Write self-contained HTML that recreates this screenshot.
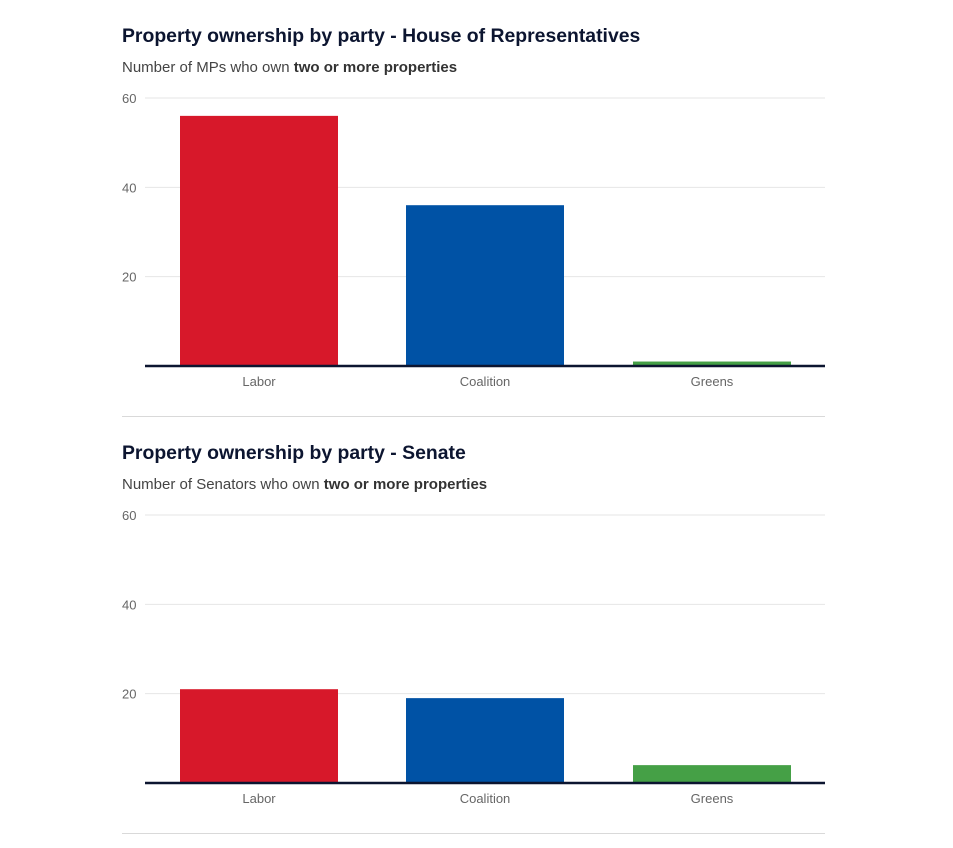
<!DOCTYPE html>
<html><head><meta charset="utf-8"><style>
body{margin:0;background:#fff;width:953px;height:843px;overflow:hidden;font-family:"Liberation Sans",sans-serif;}
svg text{font-family:"Liberation Sans",sans-serif;}
</style></head><body>
<svg id="s" width="953" height="843"></svg>
<script>
const categories=["Labor","Coalition","Greens"];
const houseValues=[56,36,1];
const senateValues=[21,19,4];
const tickValues=[20,40,60];
const colors=["#d7182a","#0052a5","#45a046"];
const NS="http://www.w3.org/2000/svg";
const svg=document.getElementById('s');
function mk(t,a,p){const e=document.createElementNS(NS,t);for(const k in a)e.setAttribute(k,a[k]);(p||svg).appendChild(e);return e;}
function chart(top,title,subA,values,name){
  const g=mk('g',{});
  
  
  const t=mk('text',{x:122,y:top+42,'font-size':19.4,'font-weight':'bold',fill:'#0c1530'},g);t.textContent=title;
  
  const st=mk('text',{x:122,y:top+72,'font-size':15,fill:'#444'},g);
  
  st.innerHTML=subA+' <tspan font-weight="bold" fill="#333">two or more properties</tspan>';
  const y0=top+366,per=(366-98)/60;
  const y=v=>y0-v*per;
  const bx=[180,406,633],bw=158;
  const x=i=>bx[i];
  tickValues.forEach(v=>{
    const l=mk('line',{x1:145,x2:825,y1:y(v),y2:y(v),stroke:'#e6e6e6','stroke-width':1},g);
    
    const tx=mk('text',{x:122,y:y(v)+5,'font-size':13,fill:'#666'},g);tx.textContent=v;
    
  });
  values.forEach((v,i)=>{
    const r=mk('rect',{x:x(i),y:y(v),width:bw,height:y0-y(v),fill:colors[i]},g);
    
    
    const lt=mk('text',{x:x(i)+bw/2,y:y0+20,'font-size':13,fill:'#666','text-anchor':'middle'},g);lt.textContent=categories[i];
    
  });
  const ax=mk('line',{x1:145,x2:825,y1:y0,y2:y0,stroke:'#0c1530','stroke-width':2.5},g);
  
  const sep=mk('line',{x1:122,x2:825,y1:top+416.5,y2:top+416.5,stroke:'#d9d9d9','stroke-width':1},g);
  
}
chart(0,"Property ownership by party - House of Representatives","Number of MPs who own",houseValues,'house-chart');
chart(417,"Property ownership by party - Senate","Number of Senators who own",senateValues,'senate-chart');
</script>
</body></html>
